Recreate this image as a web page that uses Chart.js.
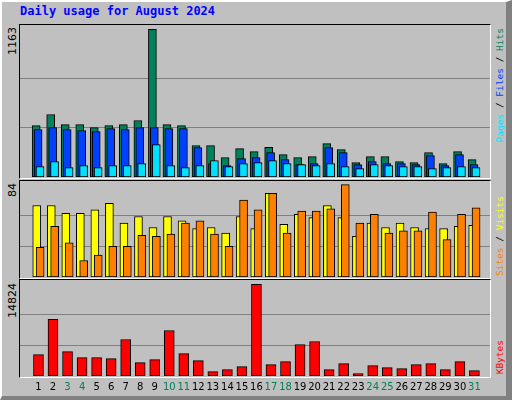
<!DOCTYPE html>
<html><head><meta charset="utf-8">
<script src="https://cdn.jsdelivr.net/npm/chart.js@4"></script>
<style>
html,body{margin:0;padding:0;}
#page{position:absolute;left:0;top:0;background:#c0c0c0;border-left:2px solid #fff;border-top:2px solid #fff;border-right:6px solid #808080;border-bottom:4px solid #808080;width:504px;height:394px;}
.box{position:absolute;}
.frame{position:absolute;border-left:1px solid #000;border-top:1px solid #000;border-right:1px solid #fff;border-bottom:1px solid #fff;}
.vt{position:absolute;writing-mode:vertical-rl;transform:rotate(180deg);white-space:nowrap;}
.mono{font-family:"DejaVu Sans Mono",monospace;font-size:9.5px;}
.num{font-family:"DejaVu Sans",sans-serif;font-size:11px;color:#000;}
#title{position:absolute;left:20px;top:4px;font:bold 12px "DejaVu Sans Mono",monospace;color:#0000ff;}
</style></head><body>
<div id="page"></div>
<div id="title">Daily usage for August 2024</div>
<div class="frame" style="left:19px;top:24px;width:470px;height:153px"></div>
<div class="frame" style="left:19px;top:180px;width:470px;height:97px"></div>
<div class="frame" style="left:19px;top:279px;width:470px;height:97px"></div>
<div class="box" style="left:20px;top:25px;width:470px;height:152px"><canvas id="c1"></canvas></div>
<div class="box" style="left:20px;top:181px;width:470px;height:96px"><canvas id="c2"></canvas></div>
<div class="box" style="left:20px;top:280px;width:470px;height:114px"><canvas id="c3"></canvas></div>
<div class="vt num" style="left:6px;top:27px">1163</div>
<div class="vt num" style="left:6px;top:183px">84</div>
<div class="vt num" style="left:6px;top:283px">14824</div>
<div class="vt mono" style="left:494px;top:28px"><span style="color:#00e0ff">Pages</span> / <span style="color:#0040ff">Files</span> / <span style="color:#00805c">Hits</span></div>
<div class="vt mono" style="left:494px;top:196px"><span style="color:#ff8000">Sites</span> / <span style="color:#ffff00">Visits</span></div>
<div class="vt mono" style="left:494px;top:340px"><span style="color:#ff0000">KBytes</span></div>
<script>
const days=[1,2,3,4,5,6,7,8,9,10,11,12,13,14,15,16,17,18,19,20,21,22,23,24,25,26,27,28,29,30,31];
const weekend=[3,4,10,11,17,18,24,25,31];
const hits=[405,492,413,413,389,405,413,445,1163,413,405,247,247,153,224,200,234,176,153,160,263,216,113,160,160,121,113,192,105,200,137];
const files=[374,389,374,366,358,381,374,389,389,381,381,232,105,89,145,153,192,137,97,105,232,192,97,121,105,105,97,168,89,176,97];
const pages=[82,121,74,89,74,89,89,105,255,89,74,89,129,82,105,113,129,105,97,89,105,82,66,97,89,82,82,66,74,82,74];
const visits=[65,65,58,58,61,67,49,55,45,55,51,44,45,40,55,44,76,48,57,54,65,54,37,49,45,49,45,44,44,46,47];
const sites=[27,46,31,15,20,28,28,38,37,39,49,51,39,28,70,61,76,40,60,60,62,84,49,57,40,42,42,59,34,57,63];
const kbytes=[3462,9143,3949,2975,2975,2813,5897,2164,2651,7358,3625,2489,703,1028,1515,14824,1839,2326,5086,5572,1028,2002,379,1677,1352,1190,1839,2002,1028,2326,866];

const PX=1/15.01;
function pts(vals,off){return days.map((d,i)=>({x:d+off*PX,y:vals[i]}));}
function ds(vals,off,w,color){return{data:pts(vals,off),backgroundColor:color,borderColor:'#000',borderWidth:1,borderSkipped:false,barThickness:w,grouped:false};}
function mk(id,datasets,dmax,ymax,showX){
  new Chart(document.getElementById(id),{type:'bar',data:{datasets},
  options:{responsive:true,maintainAspectRatio:false,animation:false,
    layout:{padding:0},
    plugins:{legend:{display:false},tooltip:{enabled:false}},
    scales:{
      x:{type:'linear',min:0.25,max:31.55,display:showX,grid:{display:false,drawTicks:false},border:{display:false},
         afterBuildTicks:s=>{s.ticks=days.map(d=>({value:d}));},
         afterFit:s=>{s.height=showX?18:0;},
         ticks:{padding:5,autoSkip:false,maxRotation:0,font:{family:'DejaVu Sans',size:10},
           color:c=>weekend.includes(c.tick.value)?'#00805c':'#000',callback:v=>String(v)}},
      y:{min:0,max:ymax,display:true,border:{display:false},ticks:{display:false},
         afterFit:s=>{s.width=0;},
         afterBuildTicks:s=>{s.ticks=[{value:dmax/3},{value:2*dmax/3}];},
         grid:{color:'#808080',lineWidth:1,drawTicks:false}}
    }}});
}
mk('c1',[ds(pages,1.6,8,'#00e0ff'),ds(files,-0.4,8,'#0040ff'),ds(hits,-2.4,8,'#00805c')],1163,1197,false);
mk('c2',[ds(sites,1.7,8,'#ff8000'),ds(visits,-1.8,8,'#ffff00')],84,87.3,false);
mk('c3',[ds(kbytes,0,10,'#ff0000')],14824,15521,true);
</script>
</body></html>
